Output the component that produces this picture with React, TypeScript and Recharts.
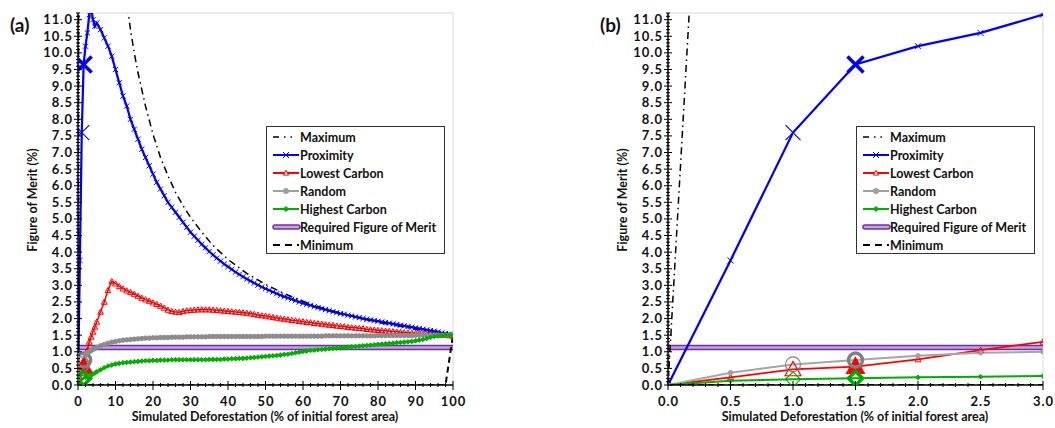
import React from "react";
import { LineChart, Line, XAxis, YAxis, ReferenceLine } from "recharts";

const FONT = "Lato, 'Open Sans', sans-serif";

// ---- panel (a): 0–100 % deforestation ----
const xA = [
  0, 0.5, 1, 1.5, 2, 2.5, 3, 3.5, 4, 4.5,
  5, 6, 7, 8, 9,
  10, 11, 12, 13, 14, 15, 16, 17, 18, 19,
  20, 21, 22, 23, 24, 25, 26, 27, 28, 29,
  30, 31, 32, 33, 34, 35, 36, 37, 38, 39,
  40, 41, 42, 43, 44, 45, 46, 47, 48, 49,
  50, 51, 52, 53, 54, 55, 56, 57, 58, 59,
  60, 61, 62, 63, 64, 65, 66, 67, 68, 69,
  70, 71, 72, 73, 74, 75, 76, 77, 78, 79,
  80, 81, 82, 83, 84, 85, 86, 87, 88, 89,
  90, 91, 92, 93, 94, 95, 96, 97, 98, 99,
  100,
];

const proximityA = [
  0, 3.75, 7.6, 9.65, 10.2, 10.6, 11.15, 11.35, 11.0, 10.8,
  10.9, 10.7, 10.45, 10.2, 9.9,
  9.5, 9.1, 8.7, 8.4, 8.0, 7.7, 7.4, 7.1, 6.85, 6.6,
  6.35, 6.1, 5.9, 5.7, 5.5, 5.35, 5.2, 5.05, 4.9, 4.75,
  4.6, 4.48, 4.36, 4.24, 4.13, 4.02, 3.92, 3.82, 3.73, 3.64,
  3.56, 3.48, 3.4, 3.33, 3.26, 3.19, 3.13, 3.07, 3.01, 2.95,
  2.9, 2.85, 2.8, 2.75, 2.7, 2.66, 2.62, 2.58, 2.54, 2.5,
  2.46, 2.43, 2.4, 2.36, 2.33, 2.3, 2.27, 2.24, 2.21, 2.18,
  2.15, 2.13, 2.1, 2.08, 2.05, 2.03, 2.0, 1.98, 1.96, 1.94,
  1.92, 1.9, 1.88, 1.86, 1.84, 1.82, 1.8, 1.78, 1.76, 1.74,
  1.72, 1.7, 1.68, 1.66, 1.64, 1.62, 1.6, 1.57, 1.55, 1.53,
  1.5,
];

const lowestA = [
  0, 0.23, 0.47, 0.55, 0.77, 1.05, 1.3, 1.45, 1.6, 1.75,
  1.9, 2.2, 2.5, 2.85, 3.12,
  3.05, 2.97, 2.9, 2.84, 2.79, 2.74, 2.68, 2.62, 2.57, 2.53,
  2.48, 2.43, 2.38, 2.32, 2.26, 2.22, 2.2, 2.19, 2.22, 2.24,
  2.25, 2.26, 2.27, 2.27, 2.27, 2.27, 2.26, 2.25, 2.24, 2.23,
  2.22, 2.21, 2.2, 2.19, 2.18, 2.17, 2.15, 2.13, 2.11, 2.09,
  2.08, 2.06, 2.04, 2.02, 2.0, 1.99, 1.97, 1.95, 1.94, 1.92,
  1.91, 1.89, 1.88, 1.86, 1.85, 1.84, 1.82, 1.81, 1.8, 1.78,
  1.77, 1.76, 1.74, 1.73, 1.72, 1.71, 1.7, 1.68, 1.67, 1.66,
  1.65, 1.64, 1.63, 1.62, 1.61, 1.6, 1.59, 1.58, 1.57, 1.56,
  1.56, 1.55, 1.54, 1.53, 1.53, 1.52, 1.51, 1.5, 1.5, 1.49,
  1.48,
];

const randomA = [
  0, 0.37, 0.62, 0.75, 0.88, 0.97, 1.0, 1.04, 1.07, 1.1,
  1.13, 1.18, 1.22, 1.26, 1.29,
  1.31, 1.33, 1.35, 1.36, 1.37, 1.38, 1.39, 1.4, 1.41, 1.41,
  1.42, 1.42, 1.43, 1.43, 1.43, 1.44, 1.44, 1.44, 1.44, 1.45,
  1.45, 1.45, 1.45, 1.45, 1.45, 1.46, 1.46, 1.46, 1.46, 1.46,
  1.46, 1.46, 1.46, 1.46, 1.46, 1.46, 1.46, 1.46, 1.46, 1.46,
  1.47, 1.47, 1.47, 1.47, 1.47, 1.47, 1.47, 1.47, 1.47, 1.47,
  1.47, 1.47, 1.47, 1.47, 1.47, 1.47, 1.48, 1.48, 1.48, 1.48,
  1.48, 1.48, 1.48, 1.48, 1.48, 1.48, 1.48, 1.48, 1.48, 1.48,
  1.49, 1.49, 1.49, 1.49, 1.49, 1.49, 1.49, 1.49, 1.49, 1.49,
  1.5, 1.5, 1.5, 1.5, 1.5, 1.5, 1.5, 1.5, 1.5, 1.5,
  1.5,
];

const highestA = [
  0, 0.13, 0.17, 0.2, 0.23, 0.25, 0.27, 0.3, 0.33, 0.36,
  0.4, 0.46, 0.52, 0.57, 0.6,
  0.63, 0.65, 0.67, 0.68, 0.69, 0.7, 0.71, 0.72, 0.73, 0.73,
  0.74, 0.74, 0.75, 0.75, 0.75, 0.76, 0.76, 0.76, 0.76, 0.76,
  0.76, 0.76, 0.76, 0.76, 0.76, 0.77, 0.77, 0.77, 0.77, 0.78,
  0.78, 0.79, 0.79, 0.8, 0.8, 0.81, 0.82, 0.83, 0.84, 0.85,
  0.86, 0.87, 0.88, 0.89, 0.9, 0.92, 0.93, 0.95, 0.97, 0.99,
  1.01, 1.02, 1.04, 1.05, 1.06, 1.07, 1.08, 1.09, 1.1, 1.11,
  1.12, 1.13, 1.14, 1.15, 1.16, 1.17, 1.18, 1.19, 1.2, 1.21,
  1.22, 1.23, 1.24, 1.25, 1.26, 1.27, 1.28, 1.29, 1.3, 1.31,
  1.33, 1.35, 1.37, 1.4, 1.43, 1.46, 1.48, 1.49, 1.5, 1.5,
  1.5,
];

// ---- panel (b): 0–3 % deforestation ----
const xB = [0, 0.5, 1, 1.5, 2, 2.5, 3];
const proximityB = [0, 3.75, 7.6, 9.65, 10.2, 10.6, 11.15];
const lowestB = [0, 0.23, 0.47, 0.55, 0.77, 1.05, 1.3];
const randomB = [0, 0.37, 0.62, 0.75, 0.88, 0.97, 1.0];
const highestB = [0, 0.13, 0.17, 0.2, 0.23, 0.25, 0.27];

// bounds shared by both panels
const maxX = [0, 0.5, 12, 13, 14, 15, 16, 18, 20, 22, 24, 26, 28, 30, 33, 36, 40, 45, 50, 55, 60, 65, 70, 75, 80, 85, 90, 95, 100];
const maxY = [0, 33, 12.5, 11.5, 10.7, 10.0, 9.4, 8.4, 7.55, 6.85, 6.3, 5.8, 5.4, 5.05, 4.6, 4.2, 3.78, 3.36, 3.03, 2.75, 2.52, 2.33, 2.16, 2.02, 1.89, 1.78, 1.68, 1.59, 1.5];
const minX = [0, 98, 100];
const minY = [0, 0, 1.5];
const requiredX = [0, 100];
const requiredY = [1.13, 1.13];

const Y_MAX = 11.2;

const toPts = (xs: number[], ys: number[]) => xs.map((x, i) => ({ x, y: ys[i] }));
const maximumPts = toPts(maxX, maxY);
const minimumPts = toPts(minX, minY);
const requiredPts = toPts(requiredX, requiredY);

const buildRows = (xs: number[], p: number[], l: number[], r: number[], h: number[]) =>
  xs.map((x, i) => ({ x, proximity: p[i], lowest: l[i], random: r[i], highest: h[i] }));

const rowsA = buildRows(xA, proximityA, lowestA, randomA, highestA);
const rowsB = buildRows(xB, proximityB, lowestB, randomB, highestB);

type Shape = "x" | "triangle" | "circle" | "diamond";

function marker(shape: Shape, cx: number, cy: number, s: number, color: string, sw: number, fill: string, key?: any) {
  switch (shape) {
    case "x":
      return (
        <path key={key} d={`M${cx - s},${cy - s}L${cx + s},${cy + s}M${cx - s},${cy + s}L${cx + s},${cy - s}`}
          stroke={color} strokeWidth={sw} fill="none" />
      );
    case "triangle":
      return (
        <polygon key={key} points={`${cx},${cy - s} ${cx + s},${cy + s * 0.8} ${cx - s},${cy + s * 0.8}`}
          stroke={color} strokeWidth={sw} fill={fill} />
      );
    case "circle":
      return <circle key={key} cx={cx} cy={cy} r={s} stroke={color} strokeWidth={sw} fill={fill} />;
    default:
      return (
        <polygon key={key} points={`${cx},${cy - s} ${cx + s},${cy} ${cx},${cy + s} ${cx - s},${cy}`}
          stroke={color} strokeWidth={sw} fill={fill} />
      );
  }
}

interface Series {
  key: string;
  name: string;
  shape: Shape;
  color: string;
  bigColor: string;
  lineA: number;
  lineB: number;
  smallA: number;
  smallB: number;
  smallFill: boolean;
}

const series: Series[] = [
  { key: "proximity", name: "Proximity", shape: "x", color: "#0000ff", bigColor: "#0000ff", lineA: 2.25, lineB: 2.25, smallA: 2.6, smallB: 3, smallFill: false },
  { key: "lowest", name: "Lowest Carbon", shape: "triangle", color: "#ff0000", bigColor: "#ff0000", lineA: 1.5, lineB: 1.75, smallA: 2.9, smallB: 3, smallFill: false },
  { key: "random", name: "Random", shape: "circle", color: "#8c8c8c", bigColor: "#808080", lineA: 2.5, lineB: 2, smallA: 2.2, smallB: 2.2, smallFill: true },
  { key: "highest", name: "Highest Carbon", shape: "diamond", color: "#00b000", bigColor: "#00a800", lineA: 2.25, lineB: 2, smallA: 2.3, smallB: 2.4, smallFill: true },
];

const makeDot = (s: Series, panel: "a" | "b") => (props: any) => {
  const { cx, cy, payload, index } = props;
  if (cx == null || cy == null || Number.isNaN(cy)) return <g key={index} />;
  const x = payload.x;
  const color = panel === "b" && s.key === "random" ? "#a0a0a0" : s.color;
  if (x === 1.5) {
    const size = s.shape === "x" ? 8 : 7;
    return marker(s.shape, cx, cy, size, s.bigColor, 3.5, s.shape === "triangle" ? s.bigColor : "none", index);
  }
  if (x === 1) {
    return marker(s.shape, cx, cy, s.shape === "triangle" ? 8 : 7.5, s.bigColor, 1.1, "none", index);
  }
  const size = panel === "a" ? s.smallA : s.smallB;
  return marker(s.shape, cx, cy, size, color, 1, s.smallFill ? color : "none", index);
};

const tickText = {
  fontFamily: FONT,
  fontWeight: 700,
  fontSize: 13,
  fill: "#111",
};

const isMult = (v: number, step: number) => Math.abs(v / step - Math.round(v / step)) < 1e-6;

const YTick = (props: any) => {
  const { x, y, payload } = props;
  const v = payload.value;
  const major = isMult(v, 0.5);
  const len = major ? 4 : 2;
  return (
    <g>
      <line x1={x - len} x2={x + len} y1={y} y2={y} stroke="#000" strokeWidth={1} />
      {major && (
        <text x={x - 5} y={y} dy={4.5} textAnchor="end" style={tickText} letterSpacing={1}>
          {v.toFixed(1)}
        </text>
      )}
    </g>
  );
};

const makeXTick = (majorStep: number, decimals: number) => (props: any) => {
  const { x, y, payload } = props;
  const v = payload.value;
  const major = isMult(v, majorStep);
  return (
    <g>
      <line x1={x} x2={x} y1={y - (major ? 4 : 2)} y2={y + (major ? 5 : 2)} stroke="#000" strokeWidth={1} />
      {major && (
        <text x={x + 0.5} y={y} dy={21} textAnchor="middle" style={tickText} letterSpacing={1}>
          {v.toFixed(decimals)}
        </text>
      )}
    </g>
  );
};

const range = (lo: number, hi: number, step: number) => {
  const out: number[] = [];
  const n = Math.round((hi - lo) / step);
  for (let i = 0; i <= n; i++) out.push(Math.round((lo + i * step) * 1000) / 1000);
  return out;
};

const yTicks = range(0, 11.2, 0.1);

function LegendBox() {
  const rows = ["Maximum", "Proximity", "Lowest Carbon", "Random", "Highest Carbon", "Required Figure of Merit", "Minimum"];
  const icon = (name: string, cy: number) => {
    const x1 = 6;
    const x2 = 32;
    const mid = 19;
    if (name === "Maximum")
      return <line x1={x1} x2={x2} y1={cy} y2={cy} stroke="#000" strokeWidth={1.5} strokeDasharray="6 5 1.5 5 1.5 10" />;
    if (name === "Minimum")
      return <line x1={x1} x2={x2} y1={cy} y2={cy} stroke="#000" strokeWidth={2} strokeDasharray="7 5" />;
    if (name === "Required Figure of Merit")
      return (
        <g>
          <line x1={x1 + 2} x2={x2 - 1} y1={cy} y2={cy} stroke="#7030a0" strokeWidth={5.5} strokeLinecap="round" />
          <line x1={x1 + 2} x2={x2 - 1} y1={cy} y2={cy} stroke="#c3a3e0" strokeWidth={2.5} strokeLinecap="round" />
        </g>
      );
    const s = series.find((d) => d.name === name)!;
    const color = s.key === "random" ? "#a0a0a0" : s.color;
    return (
      <g>
        <line x1={x1} x2={x2} y1={cy} y2={cy} stroke={color} strokeWidth={2} />
        {marker(s.shape, mid, cy, s.shape === "x" ? 3 : 2.6, color, 1, s.smallFill ? color : "#fff")}
      </g>
    );
  };
  return (
    <div style={{ position: "absolute", left: 266, top: 126, width: 177, height: 126, border: "1px solid #333", background: "#fff" }}>
      <svg width={177} height={126}>
        {rows.map((name, i) => {
          const cy = 10 + i * 18;
          return (
            <g key={name}>
              {icon(name, cy)}
              <text x={33} y={cy} dy={4.5} style={{ fontFamily: FONT, fontWeight: 700, fontSize: 12.5, fill: "#111" }}>
                {name}
              </text>
            </g>
          );
        })}
      </svg>
    </div>
  );
}

function Panel({ label, rows, xMax, xTicks, majorStep, decimals, width, left }: any) {
  const panel = label === "(a)" ? "a" : "b";
  return (
    <div style={{ position: "absolute", left, top: 0, width, height: 428 }}>
      <LineChart width={width} height={428} margin={{ top: 13, right: width - 453, bottom: 42, left: 77 }}>
        <XAxis
          dataKey="x"
          type="number"
          domain={[0, xMax]}
          allowDataOverflow
          ticks={xTicks}
          interval={0}
          height={1}
          tickSize={0}
          tickMargin={0}
          tickLine={false}
          tick={makeXTick(majorStep, decimals)}
          axisLine={{ stroke: "#000", strokeWidth: 1.5 }}
        />
        <YAxis
          type="number"
          domain={[0, Y_MAX]}
          allowDataOverflow
          ticks={yTicks}
          interval={0}
          width={1}
          tickSize={0}
          tickMargin={0}
          tickLine={false}
          tick={YTick}
          axisLine={{ stroke: "#000", strokeWidth: 1.5 }}
        />
        <ReferenceLine y={Y_MAX} stroke="#d9d9d9" strokeWidth={1} />
        <ReferenceLine x={xMax} stroke="#d9d9d9" strokeWidth={1} />
        <Line data={requiredPts} dataKey="y" stroke="#7030a0" strokeWidth={5.5} dot={false} isAnimationActive={false} />
        <Line data={requiredPts} dataKey="y" stroke="#c3a3e0" strokeWidth={2.5} dot={false} isAnimationActive={false} />
        {series.map((s) => (
          <Line
            key={s.key}
            data={rows}
            dataKey={s.key}
            stroke={panel === "b" && s.key === "random" ? "#a6a6a6" : s.color}
            strokeWidth={panel === "a" ? s.lineA : s.lineB}
            dot={makeDot(s, panel)}
            isAnimationActive={false}
          />
        ))}
        <Line data={maximumPts} dataKey="y" stroke="#000" strokeWidth={1.5} strokeDasharray="7 4 1.5 4" dot={false} isAnimationActive={false} />
        <Line data={minimumPts} dataKey="y" stroke="#000" strokeWidth={2} strokeDasharray="6 4" dot={false} isAnimationActive={false} />
      </LineChart>
      <div style={{ position: "absolute", left: 10, top: 15, fontFamily: FONT, fontWeight: 700, fontSize: 19, lineHeight: "20px", color: "#111" }}>
        {label}
      </div>
      <div
        style={{
          position: "absolute", left: 32, top: 200, transform: "translate(-50%, -50%) rotate(-90deg)",
          whiteSpace: "nowrap", fontFamily: FONT, fontWeight: 700, fontSize: 12.5, color: "#111",
        }}
      >
        Figure of Merit (%)
      </div>
      <div
        style={{
          position: "absolute", left: 265, top: 409, transform: "translateX(-50%)",
          whiteSpace: "nowrap", fontFamily: FONT, fontWeight: 700, fontSize: 12.5, lineHeight: "15px", color: "#111",
        }}
      >
        Simulated Deforestation (% of initial forest area)
      </div>
      <LegendBox />
    </div>
  );
}

export default function App() {
  return (
    <div style={{ position: "absolute", left: 0, top: 0, width: 1055, height: 428, background: "#fff", overflow: "hidden" }}>
      <Panel label="(a)" rows={rowsA} xMax={100} xTicks={range(0, 100, 2)} majorStep={10} decimals={0} width={530} left={0} />
      <Panel label="(b)" rows={rowsB} xMax={3} xTicks={range(0, 3, 0.1)} majorStep={0.5} decimals={1} width={465} left={590} />
    </div>
  );
}
